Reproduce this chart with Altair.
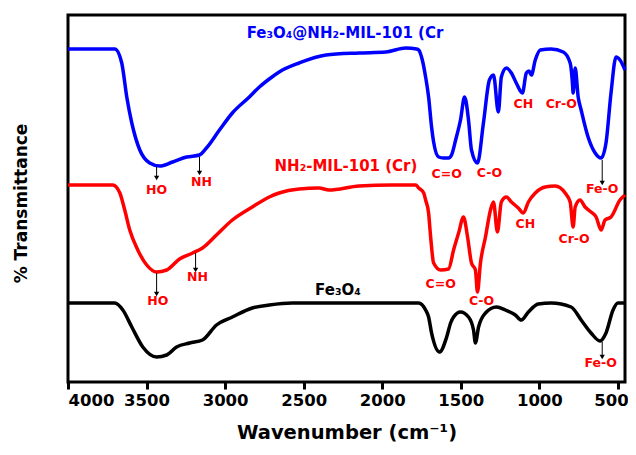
import altair as alt
import pandas as pd

# ---- spectra (wavenumber, transmittance in arbitrary offset units) ----
blue_wn = [4000, 3850, 3702, 3658, 3626, 3594, 3543, 3480, 3417, 3334, 3245, 3163, 3119, 3036, 2954,
           2846, 2782, 2719, 2656, 2529, 2358, 2148, 1977, 1850, 1781, 1768, 1745, 1724, 1705, 1686,
           1673, 1641, 1610, 1578, 1559, 1533, 1502, 1476, 1451, 1432, 1394, 1356, 1318, 1292, 1261,
           1242, 1210, 1178, 1147, 1108, 1083, 1066, 1051, 1026, 994, 925, 848, 804, 790, 785, 772,
           753, 734, 690, 645, 607, 576, 544, 512, 487, 455]
blue_t = [333, 333, 333, 319, 285, 259, 232, 219, 216, 220, 225, 227, 234, 252, 269,
          285, 295, 303, 310, 319, 327, 329, 330, 334, 333, 332, 322, 305, 285, 255,
          240, 225, 224, 224, 227, 242, 262, 285, 262, 232, 219, 259, 302, 307, 270,
          305, 314, 309, 299, 289, 309, 311, 307, 322, 332, 333, 330, 319, 300, 289, 314,
          285, 272, 245, 229, 224, 239, 289, 325, 322, 312]

red_wn = [4000, 3850, 3715, 3670, 3639, 3607, 3556, 3499, 3436, 3372, 3290, 3207, 3144, 3055, 2954,
          2827, 2719, 2656, 2529, 2402, 2339, 2148, 1939, 1787, 1768, 1736, 1724, 1705, 1692, 1673,
          1628, 1578, 1546, 1514, 1483, 1457, 1432, 1407, 1394, 1375, 1343, 1311, 1292, 1267, 1242,
          1210, 1178, 1134, 1102, 1070, 1026, 963, 899, 836, 804, 785, 772, 741, 709, 671, 639,
          607, 582, 544, 487, 455]
red_t = [197, 197, 197, 189, 172, 152, 132, 117, 110, 112, 123, 129, 134, 147, 162,
         175, 185, 189, 193, 194, 192, 196, 197, 197, 194, 189, 182, 169, 145, 119,
         112, 113, 132, 149, 165, 145, 119, 112, 90, 119, 145, 172, 180, 150, 180,
         185, 180, 174, 169, 180, 189, 195, 196, 189, 180, 155, 175, 182, 175, 170, 165,
         152, 162, 165, 182, 187]

black_wn = [4000, 3850, 3702, 3651, 3594, 3524, 3436, 3372, 3309, 3226, 3144, 3055, 2954, 2827, 2719,
            2573, 2358, 1939, 1768, 1724, 1705, 1686, 1635, 1590, 1565, 1546, 1502, 1451, 1419, 1407,
            1387, 1343, 1273, 1216, 1153, 1115, 1070, 1007, 925, 798, 734, 671, 614, 576, 531, 500, 455]
black_t = [79, 79, 79, 72, 55, 35, 25, 27, 35, 39, 42, 57, 65, 74, 77,
           79, 79, 79, 79, 72, 65, 49, 30, 45, 59, 65, 70, 65, 52, 39,
           55, 69, 75, 72, 67, 62, 70, 78, 79, 75, 62, 49, 41, 49, 72, 79, 79]

series_names = ["Fe3O4@NH2-MIL-101 (Cr)", "NH2-MIL-101 (Cr)", "Fe3O4"]
series_colors = ["#0000ff", "#ff0000", "#000000"]

# ---- series labels ----
slabel_text = ["Fe₃O₄@NH₂-MIL-101 (Cr", "NH₂-MIL-101 (Cr)", "Fe₃O₄"]
slabel_wn = [2237, 2231, 2282]
slabel_t = [349, 216, 92]
slabel_color = ["#0000ff", "#ff0000", "#000000"]

# ---- band annotations ----
ann_text = ["HO", "NH", "C=O", "C-O", "CH", "Cr-O", "Fe-O",
            "HO", "NH", "C=O", "C-O", "CH", "Cr-O", "Fe-O"]
ann_wn = [3436, 3150, 1590, 1318, 1102, 861, 600,
          3429, 3176, 1628, 1368, 1089, 779, 610]
ann_t = [192, 200, 208, 209, 278, 278, 193,
         81, 105, 98, 81, 158, 143, 19]

# ---- arrows ----
arr_wn = [3436, 3163, 600, 3436, 3188, 600]
arr_top = [215, 225, 222, 109, 129, 40]
arr_bot = [204, 209, 199, 88, 112, 25]

x_ticks = [4000, 3500, 3000, 2500, 2000, 1500, 1000, 500]

rows = []
for name, wns, ts in zip(series_names, [blue_wn, red_wn, black_wn], [blue_t, red_t, black_t]):
    for i, (w, t) in enumerate(zip(wns, ts)):
        rows.append({"series": name, "wn": w, "t": t, "order": i})
spec = pd.DataFrame(rows)

slab = pd.DataFrame({"text": slabel_text, "wn": slabel_wn, "t": slabel_t, "c": slabel_color})
ann = pd.DataFrame({"text": ann_text, "wn": ann_wn, "t": ann_t})
arr = pd.DataFrame({"wn": arr_wn, "top": arr_top, "bot": arr_bot})

FONT = "DejaVu Sans"
xs = alt.Scale(domain=[455, 4000], reverse=True, nice=False, zero=False)
ys = alt.Scale(domain=[0, 367], nice=False, zero=False)

x_enc = alt.X("wn:Q", scale=xs,
              axis=alt.Axis(values=x_ticks, title="Wavenumber (cm⁻¹)", format="d",
                            labelFontSize=16.5, labelFontWeight="bold", labelFont=FONT,
                            labelColor="black", labelPadding=3,
                            labelOffset=alt.condition("datum.value <= 500", alt.value(-7), alt.value(0)),
                            titleFontSize=19.5, titleFontWeight="bold", titleFont=FONT,
                            titleColor="black", titlePadding=15,
                            tickColor="black", tickWidth=3, tickSize=7, domain=False,
                            grid=False))
y_enc = alt.Y("t:Q", scale=ys,
              axis=alt.Axis(labels=False, ticks=False, domain=False, grid=False,
                            title="% Transmittance", titleFontSize=17, titleFontWeight="bold",
                            titleFont=FONT, titleColor="black", titlePadding=38, titleY=188))

lines = alt.Chart(spec).mark_line(strokeWidth=3.5, interpolate="monotone").encode(
    x=x_enc, y=y_enc,
    color=alt.Color("series:N", scale=alt.Scale(domain=series_names, range=series_colors), legend=None),
    order="order:Q",
)

slabels = alt.Chart(slab).mark_text(fontSize=15, fontWeight="bold", font=FONT).encode(
    x=alt.X("wn:Q", scale=xs), y=alt.Y("t:Q", scale=ys),
    text="text:N", color=alt.Color("c:N", scale=None),
)

anns = alt.Chart(ann).mark_text(fontSize=12.5, fontWeight="bold", font=FONT, color="#ff0000").encode(
    x=alt.X("wn:Q", scale=xs), y=alt.Y("t:Q", scale=ys), text="text:N",
)

rules = alt.Chart(arr).mark_rule(color="black", strokeWidth=1).encode(
    x=alt.X("wn:Q", scale=xs), y=alt.Y("top:Q", scale=ys), y2="bot:Q",
)
heads = alt.Chart(arr).mark_point(shape="triangle-down", filled=True, color="black",
                                  size=28, opacity=1).encode(
    x=alt.X("wn:Q", scale=xs), y=alt.Y("bot:Q", scale=ys),
)

chart = alt.layer(lines, slabels, anns, rules, heads).properties(
    width=557, height=367,
    autosize=alt.AutoSizeParams(type="none"),
    padding={"left": 60, "top": 7, "right": 3, "bottom": 65},
    background="white",
).configure_view(stroke="black", strokeWidth=3)

chart.save("out.html", embed_options={"renderer": "svg", "actions": False})
